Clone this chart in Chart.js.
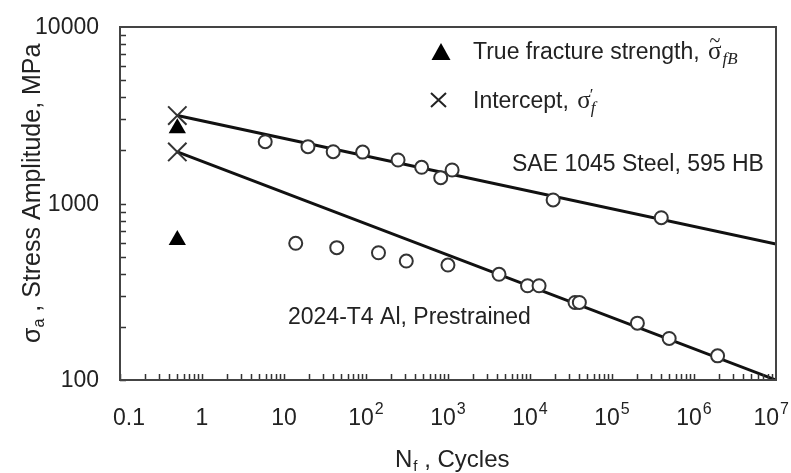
<!DOCTYPE html>
<html>
<head>
<meta charset="utf-8">
<script src="https://cdn.jsdelivr.net/npm/chart.js@4.4.0/dist/chart.umd.min.js"></script>
<style>
  html, body { margin: 0; padding: 0; background: #fff; }
  #wrap { width: 791px; height: 473px; }
</style>
</head>
<body>
<div id="wrap"><canvas id="snChart" width="791" height="473"></canvas></div>
<script>
// S-N test data (N in cycles, stress amplitude in MPa)
const steelCycles = [5.9, 19.6, 39.8, 91, 246, 477, 815, 1122, 19140, 399000];
const steelStress = [2240, 2100, 1966, 1955, 1764, 1604, 1400, 1548, 1047, 831];
const alCycles = [13.9, 44, 142, 310, 998, 4190, 9330, 12900, 35400, 40000, 204000, 498000, 1940000];
const alStress = [595, 562, 526, 472, 448, 397, 342, 342, 275, 275, 210, 172, 137];

// fitted stress-life lines, from N = 0.5 out to 1e7
const steelFitCycles = [0.5, 1e7];
const steelFitStress = [3150, 590];
const alFitCycles = [0.5, 1e7];
const alFitStress = [1960, 100];

// tension test values plotted at N = 0.5
const fractureCycles = [0.5, 0.5];
const fractureStress = [2670, 621];
const interceptCycles = [0.5, 0.5];
const interceptStress = [3150, 1960];

// axis ticks
const xTickValues = [0.1, 1, 10, 100, 1e3, 1e4, 1e5, 1e6, 1e7];
const xTickBase = ["0.1", "1", "10", "10", "10", "10", "10", "10", "10"];
const xTickExp = ["", "", "", "2", "3", "4", "5", "6", "7"];
const yTickValues = [100, 1000, 10000];
const yTickLabels = ["100", "1000", "10000"];

const sans = '"Liberation Sans", Arial, sans-serif';
const serif = '"Liberation Serif", "Times New Roman", serif';

function toPoints(xs, ys) {
  return xs.map((x, i) => ({ x: x, y: ys[i] }));
}

// frame, inward ticks, labels and notes
const decorPlugin = {
  id: "decor",
  afterDraw(chart) {
    const ctx = chart.ctx;
    const area = chart.chartArea;
    const xs = chart.scales.x;
    const ys = chart.scales.y;
    ctx.save();

    // minor / major ticks pointing inwards
    ctx.strokeStyle = "#333";
    ctx.lineWidth = 1.5;
    ctx.beginPath();
    for (let d = 100; d < 10000; d *= 10) {
      for (let k = 1; k < 10; k++) {
        const py = Math.round(ys.getPixelForValue(k * d)) + 0.5;
        ctx.moveTo(area.left, py);
        ctx.lineTo(area.left + 6, py);
      }
    }
    for (let d = 0.1; d < 1e7 * 0.99; d *= 10) {
      for (let k = 1; k < 10; k++) {
        const px = Math.round(xs.getPixelForValue(k * d)) + 0.5;
        ctx.moveTo(px, area.bottom);
        ctx.lineTo(px, area.bottom - 6);
      }
    }
    ctx.stroke();

    // plot frame
    ctx.strokeStyle = "#444";
    ctx.lineWidth = 2;
    ctx.strokeRect(area.left, area.top, area.right - area.left, area.bottom - area.top);

    ctx.fillStyle = "#222";

    // y tick labels
    ctx.font = "23px " + sans;
    ctx.textAlign = "right";
    ctx.textBaseline = "middle";
    yTickValues.forEach((v, i) => {
      ctx.fillText(yTickLabels[i], 99, ys.getPixelForValue(v) + 1);
    });

    // x tick labels with superscript exponents
    ctx.textBaseline = "alphabetic";
    ctx.textAlign = "left";
    xTickValues.forEach((v, i) => {
      ctx.font = "23px " + sans;
      const wb = ctx.measureText(xTickBase[i]).width;
      ctx.font = "16px " + sans;
      const we = xTickExp[i] ? ctx.measureText(xTickExp[i]).width + 1 : 0;
      let cx = xs.getPixelForValue(v);
      const half = (wb + we) / 2;
      if (cx + half > chart.width - 2) cx = chart.width - 2 - half;
      if (cx - half < 113) cx = 113 + half;
      const x0 = cx - half;
      ctx.font = "23px " + sans;
      ctx.fillText(xTickBase[i], x0, 425);
      if (xTickExp[i]) {
        ctx.font = "16px " + sans;
        ctx.fillText(xTickExp[i], x0 + wb + 1, 414);
      }
    });

    // x axis title
    let tx = 395;
    ctx.font = "24px " + sans;
    ctx.fillText("N", tx, 467);
    tx += ctx.measureText("N").width;
    ctx.font = "15px " + sans;
    ctx.fillText("f", tx + 1, 471);
    tx += ctx.measureText("f").width + 1;
    ctx.font = "24px " + sans;
    ctx.fillText(" , Cycles", tx, 467);

    // y axis title, rotated
    ctx.save();
    ctx.translate(40, 343);
    ctx.rotate(-Math.PI / 2);
    let ty = 0;
    ctx.font = "25px " + sans;
    ctx.fillText("\u03c3", ty, 0);
    ty += ctx.measureText("\u03c3").width;
    ctx.font = "16px " + sans;
    ctx.fillText("a", ty, 4);
    ty += ctx.measureText("a").width;
    ctx.font = "25px " + sans;
    ctx.fillText(" , Stress Amplitude, MPa", ty, 0);
    ctx.restore();

    // material notes
    ctx.font = "23px " + sans;
    ctx.fillText("SAE 1045 Steel, 595 HB", 512, 171);
    ctx.fillText("2024-T4 Al, Prestrained", 288, 324);

    // key: triangle
    ctx.fillStyle = "#000";
    ctx.beginPath();
    ctx.moveTo(441, 43);
    ctx.lineTo(450.5, 60);
    ctx.lineTo(431.5, 60);
    ctx.closePath();
    ctx.fill();
    ctx.fillStyle = "#222";
    let lx = 473;
    ctx.font = "23px " + sans;
    ctx.fillText("True fracture strength, ", lx, 59);
    lx += ctx.measureText("True fracture strength, ").width + 2;
    ctx.font = "25px " + serif;
    ctx.fillText("\u03c3", lx, 59);
    const sw = ctx.measureText("\u03c3").width;
    ctx.font = "20px " + serif;
    ctx.textAlign = "center";
    ctx.fillText("~", lx + sw / 2, 47);
    ctx.textAlign = "left";
    ctx.font = "italic 17px " + serif;
    ctx.fillText("fB", lx + sw + 1, 64);

    // key: cross
    ctx.strokeStyle = "#222";
    ctx.lineWidth = 2;
    ctx.beginPath();
    ctx.moveTo(431, 93);
    ctx.lineTo(446, 107);
    ctx.moveTo(446, 93);
    ctx.lineTo(431, 107);
    ctx.stroke();
    lx = 473;
    ctx.font = "23px " + sans;
    ctx.fillText("Intercept, ", lx, 108);
    lx += ctx.measureText("Intercept, ").width + 2;
    ctx.font = "25px " + serif;
    ctx.fillText("\u03c3", lx, 108);
    const sw2 = ctx.measureText("\u03c3").width;
    ctx.font = "17px " + serif;
    ctx.fillText("\u2032", lx + sw2 - 1, 100);
    ctx.font = "italic 17px " + serif;
    ctx.fillText("f", lx + sw2, 113);

    ctx.restore();
  }
};

const chartConfig = {
  type: "scatter",
  data: {
    datasets: [
      {
        label: "SAE 1045 Steel",
        data: toPoints(steelCycles, steelStress),
        pointStyle: "circle",
        pointRadius: 6.5,
        pointBorderWidth: 2,
        pointBorderColor: "#333",
        pointBackgroundColor: "#fff",
        showLine: false,
        order: 0,
      },
      {
        label: "2024-T4 Al",
        data: toPoints(alCycles, alStress),
        pointStyle: "circle",
        pointRadius: 6.5,
        pointBorderWidth: 2,
        pointBorderColor: "#333",
        pointBackgroundColor: "#fff",
        showLine: false,
        order: 0,
      },
      {
        label: "Intercept",
        data: toPoints(interceptCycles, interceptStress),
        pointStyle: "crossRot",
        pointRadius: 13,
        pointBorderWidth: 2,
        pointBorderColor: "#333",
        showLine: false,
        order: 1,
      },
      {
        label: "True fracture strength",
        data: toPoints(fractureCycles, fractureStress),
        pointStyle: "triangle",
        pointRadius: 10,
        pointBorderWidth: 0,
        pointBackgroundColor: "#000",
        pointBorderColor: "#000",
        showLine: false,
        order: 1,
      },
      {
        label: "Steel fit",
        data: toPoints(steelFitCycles, steelFitStress),
        showLine: true,
        borderColor: "#111",
        borderWidth: 3,
        pointRadius: 0,
        order: 2,
      },
      {
        label: "Al fit",
        data: toPoints(alFitCycles, alFitStress),
        showLine: true,
        borderColor: "#111",
        borderWidth: 3,
        pointRadius: 0,
        order: 2,
      },
    ],
  },
  options: {
    responsive: false,
    animation: false,
    layout: { padding: { left: 120, right: 2, top: 27, bottom: 93 } },
    plugins: {
      legend: { display: false },
      tooltip: { enabled: false },
    },
    scales: {
      x: { type: "logarithmic", min: 0.1, max: 1e7, display: false },
      y: { type: "logarithmic", min: 100, max: 10000, display: false },
    },
  },
  plugins: [decorPlugin],
};

const snChart = new Chart(document.getElementById("snChart").getContext("2d"), chartConfig);
</script>
</body>
</html>
